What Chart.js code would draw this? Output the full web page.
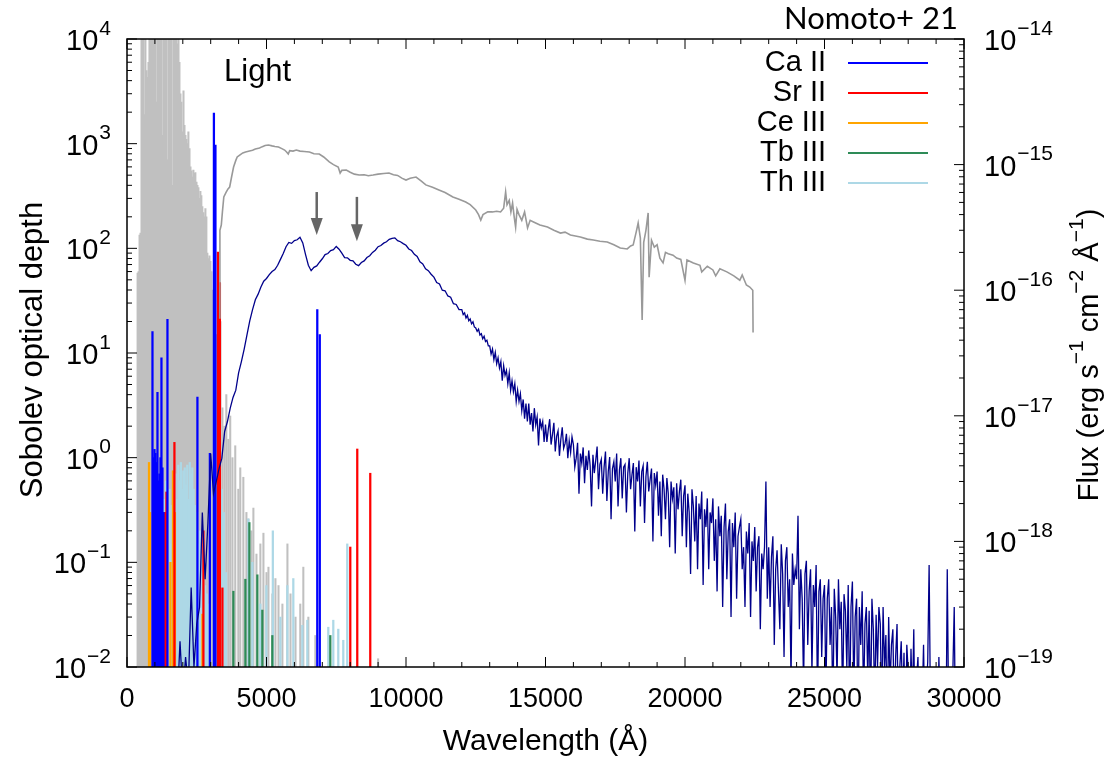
<!DOCTYPE html>
<html>
<head>
<meta charset="utf-8">
<script src="https://cdn.jsdelivr.net/npm/chart.js@4.4.0/dist/chart.umd.min.js"></script>
<style>
html,body{margin:0;padding:0;background:#fff;}
#wrap{width:1105px;height:758px;position:relative;}
</style>
</head>
<body>
<div id="wrap"><canvas id="spec"></canvas></div>
<script>
// axis ticks
var waveTicks=[0,5000,10000,15000,20000,25000,30000];
var tauExp=[-2,-1,0,1,2,3,4];
var fluxExp=[-19,-18,-17,-16,-15,-14];

// all lines (grey forest): wavelength (A), Sobolev optical depth
var allWave=[380,415,450,485,520,555,590,625,660,700,735,770,805,840,875,910,950,985,1020,1055,
  1090,1130,1165,1200,1235,1270,1305,1345,1380,1415,1450,1485,1520,1560,1595,1630,1665,1700,1735,1770,
  1810,1845,1880,1915,1950,1990,2025,2060,2095,2130,2165,2200,2240,2275,2310,2345,2380,2415,2450,2490,
  2525,2560,2595,2630,2665,2700,2740,2775,2810,2845,2880,2920,2955,2990,3025,3060,
  3130,3200,3280,3350,3420,3490,3560,3630,3700,3780,3880,3990,4060,4170,4280,4350,4460,4530,4640,4780,
  4890,5000,5070,5210,5320,5430,5570,5750,5860,6040,6210,6320,6500,6750,9000];
var allTau=[58,60,134,140,3e4,3e4,3e4,1900,3e4,5000,4300,6000,3e4,3e4,3e4,3e4,3e4,3e4,3e4,2500,
  3e4,3e4,3e4,3e4,3e4,1200,3e4,3e4,3e4,3e4,700,3e4,3e4,3e4,3e4,400,3e4,3e4,3e4,3e4,
  9000,3e4,6000,3000,2500,1300,3200,1500,1200,1100,1000,1300,900,600,550,480,560,520,530,430,
  400,380,300,350,320,250,220,200,240,200,90,80,85,75,60,40,
  25,15,8,20,3,2,4,1.5,2.5,1,1.3,0.5,0.8,0.65,0.3,0.26,0.2,0.33,0.12,0.15,
  0.19,0.08,0.09,0.05,0.07,0.06,0.04,0.15,0.05,0.03,0.04,0.09,0.03,0.02,0.012];

// individual ions
var caWave=[913,967,985,1020,1056,1092,1146,1163,1199,1235,1271,1307,1450,2524,2970,3115,3170,6820,6910];
var caTau=[16,1.0,1.2,1.1,0.9,4.2,0.6,0.7,1.0,9,0.8,0.3,21,3.8,1.1,1960,970,26,15];
var srWave=[1199,1253,1280,1330,1360,1414,1700,2739,3258,3330,3420,8003,8253,8719];
var srTau=[0.13,0.08,0.22,0.18,0.3,0.47,1.4,0.2,92,47,0.057,0.14,1.21,0.71];
var ceWave=[788,824,1557,1647,1718,2703];
var ceTau=[0.9,0.3,0.1,0.75,0.3,0.032];
var tbWave=[3813,4243,4386,4672,4851,5209,7287];
var tbTau=[0.053,0.069,0.24,0.076,0.035,0.02,0.02];
var thWave=[1100,1180,1250,1320,1400,1470,1520,1560,1600,1640,1690,1740,1790,1840,1880,1930,1970,2020,2070,2110,
  2160,2200,2250,2300,2340,2390,2430,2480,2520,2560,2610,2660,2700,2750,2800,2860,2900,3400,3470,3550,
  4350,4493,4780,4995,5227,5496,5747,5961,6284,6463,7215,7394,7573,7752,7895];
var thTau=[0.3,0.5,0.2,0.4,0.6,0.3,0.5,0.15,0.35,0.25,0.5,0.7,0.4,0.85,0.6,0.9,0.5,0.75,0.8,0.55,
  0.85,0.4,0.9,0.7,0.8,0.5,0.35,0.25,0.3,0.15,0.2,0.12,0.08,0.1,0.06,0.05,0.04,0.5,0.3,0.08,
  0.26,0.1,0.04,0.06,0.2,0.03,0.06,0.07,0.025,0.028,0.024,0.028,0.023,0.018,0.15];

// model spectrum, flux in 1e-18 erg/s/cm2/A
var modelWave=[1800,1900,
  2000,2100,2200,2300,2400,2500,2600,2700,2800,2900,
  3000,3100,3200,3300,3400,3500,3600,3700,3800,3900,
  4000,4100,4200,4300,4400,4500,4600,4700,4800,4900,
  5000,5100,5200,5300,5400,5500,5600,5700,5800,5900,
  6000,6100,6200,6300,6400,6500,6600,6700,6800,6900,
  7000,7100,7200,7300,7400,7500,7600,7700,7800,7900,
  8000,8100,8200,8300,8400,8500,8600,8700,8800,8900,
  9000,9100,9200,9300,9400,9500,9600,9700,9800,9900,
  10000,10100,10200,10300,10400,10500,10600,10700,10800,10900,
  11000,11100,11200,11300,11400,11500,11600,11700,11800,11900,
  12000,12050,12100,12150,12200,12250,12300,12350,12400,12450,12500,12550,12600,12650,12700,12750,12800,12850,12900,12950,
  13000,13050,13100,13150,13200,13250,13300,13350,13400,13450,13500,13550,13600,13650,13700,13750,13800,13850,13900,13950,
  14000,14050,14100,14150,14200,14250,14300,14350,14400,14450,14500,14550,14600,14650,14700,14750,14800,14850,14900,14950,
  15000,15050,15100,15150,15200,15250,15300,15350,15400,15450,15500,15550,15600,15650,15700,15750,15800,15850,15900,15950,
  16000,16050,16100,16150,16200,16250,16300,16350,16400,16450,16500,16550,16600,16650,16700,16750,16800,16850,16900,16950,
  17000,17050,17100,17150,17200,17250,17300,17350,17400,17450,17500,17550,17600,17650,17700,17750,17800,17850,17900,17950,
  18000,18050,18100,18150,18200,18250,18300,18350,18400,18450,18500,18550,18600,18650,18700,18750,18800,18850,18900,18950,
  19000,19050,19100,19150,19200,19250,19300,19350,19400,19450,19500,19550,19600,19650,19700,19750,19800,19850,19900,19950,
  20000,20050,20100,20150,20200,20250,20300,20350,20400,20450,20500,20550,20600,20650,20700,20750,20800,20850,20900,20950,
  21000,21050,21100,21150,21200,21250,21300,21350,21400,21450,21500,21550,21600,21650,21700,21750,21800,21850,21900,21950,
  22000,22050,22100,22150,22200,22250,22300,22350,22400,22450,22500,22550,22600,22650,22700,22750,22800,22850,22900,22950,
  23000,23050,23100,23150,23200,23250,23300,23350,23400,23450,23500,23550,23600,23650,23700,23750,23800,23850,23900,23950,
  24000,24050,24100,24150,24200,24250,24300,24350,24400,24450,24500,24550,24600,24650,24700,24750,24800,24850,24900,24950,
  25000,25050,25100,25150,25200,25250,25300,25350,25400,25450,25500,25550,25600,25650,25700,25750,25800,25850,25900,25950,
  26000,26050,26100,26150,26200,26250,26300,26350,26400,26450,26500,26550,26600,26650,26700,26750,26800,26850,26900,26950,
  27000,27050,27100,27150,27200,27250,27300,27350,27400,27450,27500,27550,27600,27650,27700,27750,27800,27850,27900,27950,
  28000,28050,28100,28150,28200,28250,28300,28350,28400,28450,28500,28550,28600,28650,28700,28750,28800,28850,28900,28950,
  29000,29050,29100,29150,29200,29250,29300,29350,29400,29450,29500,29550,29600,29650,29700,29750,29800,29850,29900,29950,
  30000];
var modelFlux=[0.05,0.16,
  0.06,0.12,0.07,0.43,0.1,0.22,0.3,1.7,0.5,1.4,
  5.0,2.4,3.0,3.8,4.6,7.5,9.0,11.5,14,16,
  22,27,34,44,57,70,84,93,106,118,
  124,133,141,146,158,176,196,222,240,236,
  248,252,264,238,192,158,143,152,156,167,
  178,192,196,207,210,223,212,197,182,181,
  173,171,161,157,166,171,182,188,200,208,
  222,227,237,243,254,259,261,248,243,235,
  228,213,207,193,186,168,162,148,143,134,
  127,115,112,100,99,90,88,78,77,70,
  70,64,66,60,63,57,59,54,56,51,50,47,49,44,45,41,43,39,40,36,
  36,31,34,28,32,26,29,24,27,19,25,21,23,18,22,16,19,15.5,18,13,
  16,13,15,11,13.5,9.5,12.5,9,12.5,8.5,10.5,7.5,11.5,8.5,9.8,5.8,9.5,8,9,6.2,
  8.5,6.2,7.8,9.4,5.9,7.1,8.8,5.2,6.9,7.6,4.8,6.5,8.1,5.5,6.0,7.2,4.6,6.3,5.1,6.8,
  5.9,3.9,4.6,6.1,2.4,5.0,4.2,5.6,2.9,4.8,3.7,5.3,4.0,1.9,4.9,3.5,4.4,5.7,2.6,4.1,
  4.5,2.4,3.9,5.2,2.1,3.6,4.7,1.5,3.8,4.3,3.0,5.0,1.9,3.7,4.6,2.2,3.9,4.1,1.7,3.5,
  4.6,2.6,3.4,4.2,1.2,3.9,3.0,4.4,1.9,3.6,4.0,1.4,3.3,4.3,2.5,3.1,3.8,1.0,3.5,2.8,
  3.6,1.6,3.0,1.1,3.4,2.6,1.5,3.2,2.4,0.9,3.0,2.2,2.7,0.8,2.9,1.8,2.5,3.1,1.1,2.3,
  2.8,0.9,2.4,1.7,0.55,2.6,1.9,1.0,2.3,0.6,2.0,1.5,2.5,0.45,1.8,1.3,2.2,0.6,1.7,1.4,
  2.2,0.7,1.5,0.4,1.9,1.1,1.6,0.3,1.3,2.0,0.5,1.2,1.5,0.25,1.4,0.9,1.7,0.35,1.1,1.3,
  1.5,0.6,0.9,0.3,1.2,0.8,1.4,0.25,1.0,0.7,1.3,0.4,0.9,1.1,0.2,0.8,0.6,0.9,3.0,0.35,
  0.9,0.3,0.75,1.1,0.15,0.6,0.85,0.4,0.2,0.95,0.55,0.12,0.7,0.9,0.3,0.5,0.08,0.8,0.45,0.6,
  0.5,1.6,0.2,0.6,0.35,0.07,0.55,0.7,0.15,0.4,0.6,0.09,0.45,0.3,0.65,0.05,0.4,0.5,0.12,0.35,
  0.45,0.06,0.35,0.5,0.15,0.3,0.04,0.42,0.25,0.08,0.5,0.2,0.33,0.05,0.38,0.28,0.1,0.45,0.04,0.3,
  0.48,0.06,0.25,0.35,0.03,0.3,0.15,0.4,0.05,0.22,0.3,0.08,0.28,0.04,0.35,0.2,0.05,0.26,0.1,0.3,
  0.22,0.04,0.3,0.1,0.18,0.03,0.25,0.07,0.15,0.2,0.04,0.12,0.22,0.03,0.1,0.16,0.05,0.13,0.02,0.15,
  0.09,0.03,0.14,0.05,0.2,0.02,0.08,0.12,0.03,0.1,0.05,0.15,0.03,0.07,0.11,0.65,0.04,0.09,0.03,0.06,
  0.08,0.02,0.12,0.04,0.07,0.03,0.1,0.02,0.6,0.04,0.06,0.03,0.09,0.3,0.02,0.05,0.07,0.02,0.04,0.05,
  0.05];

// observed spectrum, flux in 1e-18 erg/s/cm2/A
var obsWave=[3300,3330,3380,3420,3470,3550,3620,3680,3750,3820,3900,3950,4040,4150,4250,4390,4500,4600,4750,4850,
  4950,5070,5200,5300,5430,5550,5650,5720,5780,5830,5950,6070,6200,6350,6540,6700,6890,7050,7250,7400,
  7570,7640,7700,7860,8000,8150,8320,8500,8650,8820,9000,9200,9390,9550,9700,9850,10000,10150,10360,10550,
  10710,10950,11180,11400,11680,11900,12140,12300,12500,12600,12680,12760,12930,13100,13250,13390,13500,13571,13620,13700,
  13760,13820,13880,13929,13980,14050,14150,14250,14357,14450,14571,14800,15071,15300,15536,15700,15893,16250,16500,16714,
  16950,17214,17450,17679,17929,18050,18143,18250,18321,18400,18464,18520,18600,18679,18714,18800,18900,19000,19100,19214,
  19300,19400,19571,19700,19850,20000,20071,20300,20536,20600,20800,21000,21100,21250,21500,21750,21964,22050,22200,22321,
  22429,22440];
var obsFlux=[60,300,330,420,552,600,640,663,800,957,1080,1150,1192,1240,1260,1283,1300,1330,1356,1390,
  1420,1432,1410,1395,1380,1340,1306,1260,1214,1290,1280,1306,1280,1270,1259,1220,1214,1150,1050,1000,
  957,857,900,906,870,840,826,830,815,826,840,850,857,830,820,780,754,780,796,740,
  689,660,628,600,552,530,504,480,435,400,362,400,420,420,425,420,450,605,480,520,
  420,494,380,318,440,400,360,420,313,360,349,330,318,300,285,290,275,265,255,251,
  245,242,230,217,213,225,229,290,343,260,58,240,300,412,127,250,220,230,180,165,
  200,195,190,180,176,120,174,165,158,140,155,145,130,148,140,130,120,132,110,106,
  100,46];

// arrows (position on the optical depth axis)
var arrowWave=[6800,8240];
var arrowTop=[345,310];
var arrowTip=[134,117];

var ions=['Ca II','Sr II','Ce III','Tb III','Th III'];
var ionColors=['#0000ff','#ff0000','#ffa500','#2e8b57','#add8e6'];

function pts(xs,ys,k){
  var out=[];
  for(var i=0;i<xs.length;i++){ out.push({x:xs[i],y:ys[i]*(k||1)}); }
  return out;
}

var FONT='"Liberation Sans", Arial, sans-serif';

function powLabel(ctx,exp,x,y,align){
  var base='10', sup=(exp<0?'\u2212':'')+Math.abs(exp);
  ctx.font='29px '+FONT; var wb=ctx.measureText(base).width;
  ctx.font='21px '+FONT; var ws=ctx.measureText(sup).width;
  var x0=align==='right'?x-wb-ws-1:x;
  ctx.textAlign='left'; ctx.textBaseline='middle';
  ctx.font='29px '+FONT; ctx.fillText(base,x0,y);
  ctx.font='21px '+FONT; ctx.fillText(sup,x0+wb+1,y-13);
}

var frame={
  id:'frame',
  afterDraw:function(chart){
    var ctx=chart.ctx, a=chart.chartArea;
    var sx=chart.scales.x, sy=chart.scales.y, sy2=chart.scales.y2;
    var i,d,m,px,py;
    ctx.save();

    // arrows
    ctx.fillStyle='#666'; ctx.strokeStyle='#666'; ctx.lineWidth=2.5;
    for(i=0;i<arrowWave.length;i++){
      px=sx.getPixelForValue(arrowWave[i]);
      var t=sy.getPixelForValue(arrowTop[i]), b=sy.getPixelForValue(arrowTip[i]);
      ctx.beginPath(); ctx.moveTo(px,t); ctx.lineTo(px,b-14); ctx.stroke();
      ctx.beginPath(); ctx.moveTo(px-6,b-17); ctx.lineTo(px+6,b-17); ctx.lineTo(px,b); ctx.closePath(); ctx.fill();
    }

    // frame
    ctx.strokeStyle='#000'; ctx.lineWidth=1.5;
    ctx.strokeRect(a.left,a.top,a.right-a.left,a.bottom-a.top);

    // x ticks (bottom + mirrored top)
    ctx.lineWidth=1;
    ctx.beginPath();
    for(d=0;d<=30000;d+=1000){
      px=sx.getPixelForValue(d);
      var len=(d%5000===0)?10:5;
      ctx.moveTo(px,a.bottom); ctx.lineTo(px,a.bottom-len);
      ctx.moveTo(px,a.top); ctx.lineTo(px,a.top+len);
    }
    // left log ticks
    for(i=0;i<tauExp.length;i++){
      for(m=1;m<10;m++){
        var v=m*Math.pow(10,tauExp[i]);
        if(v>1e4*1.0001) break;
        py=sy.getPixelForValue(v);
        ctx.moveTo(a.left,py); ctx.lineTo(a.left+(m===1?10:5),py);
      }
    }
    // right log ticks
    for(i=0;i<fluxExp.length;i++){
      for(m=1;m<10;m++){
        var w=m*Math.pow(10,fluxExp[i]);
        if(w>1e-14*1.0001) break;
        py=sy2.getPixelForValue(w);
        ctx.moveTo(a.right,py); ctx.lineTo(a.right-(m===1?10:5),py);
      }
    }
    ctx.stroke();

    // tick labels
    ctx.fillStyle='#000';
    ctx.font='27px '+FONT; ctx.textAlign='center'; ctx.textBaseline='middle';
    for(i=0;i<waveTicks.length;i++){
      ctx.fillText(String(waveTicks[i]),sx.getPixelForValue(waveTicks[i]),a.bottom+33);
    }
    for(i=0;i<tauExp.length;i++){
      powLabel(ctx,tauExp[i],111,sy.getPixelForValue(Math.pow(10,tauExp[i]))+3,'right');
    }
    for(i=0;i<fluxExp.length;i++){
      powLabel(ctx,fluxExp[i],984,sy2.getPixelForValue(Math.pow(10,fluxExp[i]))+3,'left');
    }

    // axis titles
    ctx.font='30px '+FONT; ctx.textAlign='center'; ctx.textBaseline='middle';
    ctx.fillText('Wavelength (\u00c5)',(a.left+a.right)/2,742);
    ctx.font='31px '+FONT;
    ctx.save(); ctx.translate(33,350); ctx.rotate(-Math.PI/2);
    ctx.fillText('Sobolev optical depth',0,0); ctx.restore();

    var parts=[['Flux (erg s',0],['\u22121',1],[' cm',0],['\u22122',1],[' \u00c5',0],['\u22121',1],[')',0]];
    var tot=0,k;
    for(k=0;k<parts.length;k++){ ctx.font=(parts[k][1]?'21px ':'29px ')+FONT; tot+=ctx.measureText(parts[k][0]).width; }
    ctx.save(); ctx.translate(1090,355); ctx.rotate(-Math.PI/2);
    ctx.textAlign='left';
    var cx=-tot/2;
    for(k=0;k<parts.length;k++){
      ctx.font=(parts[k][1]?'21px ':'29px ')+FONT;
      ctx.fillText(parts[k][0],cx,parts[k][1]?-13:0);
      cx+=ctx.measureText(parts[k][0]).width;
    }
    ctx.restore();

    // annotations
    ctx.font='31px '+FONT; ctx.textAlign='left';
    ctx.fillText('Light',224,72);
    ctx.font='31px Lato, '+FONT; ctx.textAlign='right';
    ctx.fillText('Nomoto+ 21',958,19);

    // legend
    ctx.font='29px '+FONT; ctx.textAlign='right';
    for(i=0;i<ions.length;i++){
      var ly=63+30*i;
      ctx.fillStyle='#000'; ctx.fillText(ions[i],826,ly);
      ctx.strokeStyle=ionColors[i]; ctx.lineWidth=2;
      ctx.beginPath(); ctx.moveTo(848,ly); ctx.lineTo(928,ly); ctx.stroke();
    }
    ctx.restore();
  }
};

function lineSet(label,xs,ys,color,order){
  return {type:'bar',label:label,data:pts(xs,ys),backgroundColor:color,barThickness:1.6,
    grouped:false,order:order,xAxisID:'x',yAxisID:'y'};
}

var datasets=[
  {type:'line',label:'model',data:pts(modelWave,modelFlux,1e-18),borderColor:'#00008b',borderWidth:1.3,
    pointRadius:0,tension:0,order:0,xAxisID:'x',yAxisID:'y2'},
  {type:'line',label:'observed',data:pts(obsWave,obsFlux,1e-18),borderColor:'#999999',borderWidth:1.6,
    pointRadius:0,tension:0,order:1,xAxisID:'x',yAxisID:'y2'},
  lineSet('Ca II',caWave,caTau,ionColors[0],2),
  lineSet('Sr II',srWave,srTau,ionColors[1],3),
  lineSet('Ce III',ceWave,ceTau,ionColors[2],4),
  lineSet('Tb III',tbWave,tbTau,ionColors[3],5),
  lineSet('Th III',thWave,thTau,ionColors[4],6),
  {type:'bar',label:'all',data:pts(allWave,allTau),backgroundColor:'#c0c0c0',barThickness:1.4,
    grouped:false,order:7,xAxisID:'x',yAxisID:'y'}
];

new Chart(document.getElementById('spec'),{
  type:'bar',
  data:{datasets:datasets},
  options:{
    responsive:true,maintainAspectRatio:false,animation:false,
    layout:{padding:{left:127,right:141,top:39,bottom:91}},
    plugins:{legend:{display:false},tooltip:{enabled:false}},
    scales:{
      x:{type:'linear',min:0,max:30000,offset:false,display:false},
      y:{type:'logarithmic',min:0.01,max:1e4,display:false},
      y2:{type:'logarithmic',min:1e-19,max:1e-14,display:false,position:'right'}
    }
  },
  plugins:[frame]
});
</script>
</body>
</html>
